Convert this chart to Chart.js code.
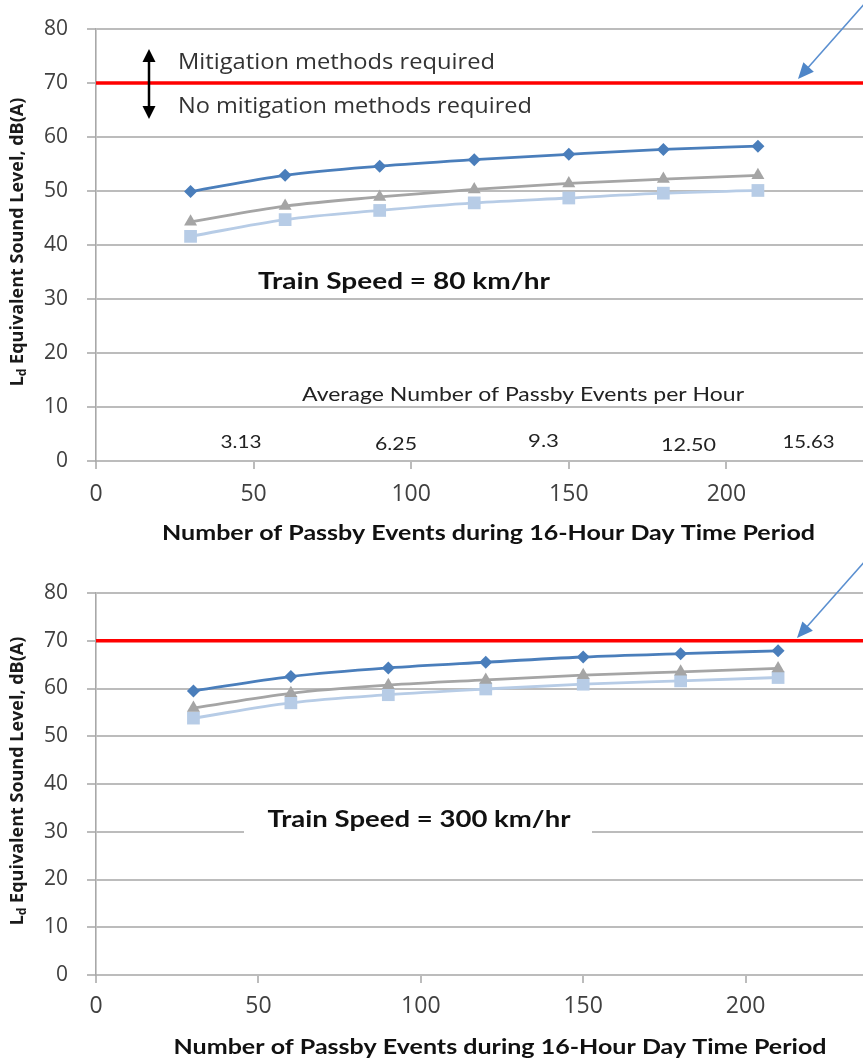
<!DOCTYPE html>
<html>
<head>
<meta charset="utf-8">
<script src="https://cdn.jsdelivr.net/npm/chart.js@4.4.1/dist/chart.umd.min.js"></script>
<style>
  html, body { margin: 0; padding: 0; background: #fff; overflow: hidden; }
  #wrap { position: relative; width: 863px; height: 1064px; overflow: hidden; background: #fff; }
  canvas { position: absolute; left: 0; }
  #chartSlow { top: 0; }
  #chartFast { top: 550px; }
</style>
</head>
<body>
<div id="wrap">
  <canvas id="chartSlow" width="900" height="550"></canvas>
  <canvas id="chartFast" width="930" height="514"></canvas>
</div>
<script>
// Passby events during the 16-hour day
const passbyEvents = [30, 60, 90, 120, 150, 180, 210];

// Ld, dB(A) — train speed 80 km/hr
const ld80SeriesA = [49.9, 52.9, 54.6, 55.8, 56.8, 57.7, 58.3];
const ld80SeriesB = [44.3, 47.2, 48.9, 50.3, 51.4, 52.2, 52.9];
const ld80SeriesC = [41.6, 44.7, 46.4, 47.8, 48.7, 49.6, 50.1];

// Ld, dB(A) — train speed 300 km/hr
const ld300SeriesA = [59.5, 62.5, 64.3, 65.5, 66.6, 67.3, 67.9];
const ld300SeriesB = [55.9, 59.0, 60.7, 61.8, 62.8, 63.5, 64.2];
const ld300SeriesC = [53.8, 57.0, 58.7, 59.9, 60.9, 61.6, 62.3];

// Mitigation criterion
const criterionLevel = 70;
const criterionSpan = [0, 250];

// Average passby events per hour
const perHourLabels = ['3.13', '6.25', '9.3', '12.50', '15.63'];

// Axis ranges
const xAxisRange = { min: 0, max: 250, step: 50 };
const yAxisRange = { min: 0, max: 80, step: 10 };

const xTitleText = 'Number of Passby Events during 16-Hour Day Time Period';

const COL_A = '#4a7ebb';
const COL_B = '#a5a5a5';
const COL_C = '#b7cce6';
const GRID = '#bcbcbc';
const TXT = '#404040';

function toPoints(xs, ys) { return xs.map((x, i) => ({ x: x, y: ys[i] })); }

function buildDatasets(a, b, c) {
  return [
    {
      label: 'criterion',
      data: criterionSpan.map(x => ({ x: x, y: criterionLevel })),
      borderColor: '#ff0000', borderWidth: 3.5, pointRadius: 0, tension: 0, order: 4
    },
    {
      label: 'C', data: toPoints(passbyEvents, c),
      borderColor: COL_C, backgroundColor: COL_C, borderWidth: 2.8,
      pointStyle: 'rect', pointRadius: 9, pointBorderWidth: 0,
      cubicInterpolationMode: 'monotone', order: 3
    },
    {
      label: 'B', data: toPoints(passbyEvents, b),
      borderColor: COL_B, backgroundColor: COL_B, borderWidth: 2.8,
      pointStyle: 'triangle', pointRadius: 7.5, pointBorderWidth: 0,
      cubicInterpolationMode: 'monotone', order: 2
    },
    {
      label: 'A', data: toPoints(passbyEvents, a),
      borderColor: COL_A, backgroundColor: COL_A, borderWidth: 2.8,
      pointStyle: 'rectRot', pointRadius: 6.5, pointBorderWidth: 0,
      cubicInterpolationMode: 'monotone', order: 1
    }
  ];
}

function drawArrowHead(ctx, x0, y0, x1, y1, len, half, color) {
  const ang = Math.atan2(y1 - y0, x1 - x0);
  ctx.save();
  ctx.fillStyle = color;
  ctx.beginPath();
  ctx.moveTo(x1, y1);
  ctx.lineTo(x1 - len * Math.cos(ang) + half * Math.sin(ang), y1 - len * Math.sin(ang) - half * Math.cos(ang));
  ctx.lineTo(x1 - len * Math.cos(ang) - half * Math.sin(ang), y1 - len * Math.sin(ang) + half * Math.cos(ang));
  ctx.closePath();
  ctx.fill();
  ctx.restore();
}

function drawCallout(ctx, x0, y0, x1, y1) {
  const ang = Math.atan2(y1 - y0, x1 - x0);
  ctx.save();
  ctx.strokeStyle = '#5a8fd0';
  ctx.lineWidth = 1.6;
  ctx.beginPath();
  ctx.moveTo(x0, y0);
  ctx.lineTo(x1 - 12 * Math.cos(ang), y1 - 12 * Math.sin(ang));
  ctx.stroke();
  ctx.restore();
  drawArrowHead(ctx, x0, y0, x1, y1, 16, 7, '#4f86c8');
}

function drawYTitle(ctx, cx, cy) {
  const main = 'bold 18px "Open Sans"';
  const sub = 'bold 12px "Open Sans"';
  const parts = [['L', main, 0], ['d', sub, 5], [' Equivalent Sound Level, dB(A)', main, 0]];
  ctx.save();
  ctx.translate(cx, cy);
  ctx.rotate(-Math.PI / 2);
  ctx.fillStyle = '#1a1a1a';
  ctx.textBaseline = 'middle';
  let total = 0;
  parts.forEach(p => { ctx.font = p[1]; total += ctx.measureText(p[0]).width; });
  let x = -total / 2;
  parts.forEach(p => {
    ctx.font = p[1];
    ctx.fillText(p[0], x, p[2]);
    x += ctx.measureText(p[0]).width;
  });
  ctx.restore();
}

// Text drawn at a set width (horizontal scaling only), anchored left or centre
function text(ctx, str, x, y, font, color, align, width) {
  ctx.save();
  ctx.font = font;
  ctx.fillStyle = color;
  ctx.textBaseline = 'middle';
  const w = ctx.measureText(str).width;
  const sx = width ? width / w : 1;
  const left = align === 'center' ? x - (w * sx) / 2 : x;
  ctx.translate(left, y);
  ctx.scale(sx, 1);
  ctx.textAlign = 'left';
  ctx.fillText(str, 0, 0);
  ctx.restore();
}

// Annotations for the 80 km/hr panel
const slowNotes = {
  id: 'slowNotes',
  afterDraw(chart) {
    const ctx = chart.ctx;
    const area = chart.chartArea;
    drawYTitle(ctx, 18, (area.top + area.bottom) / 2 - 3);
    // double-headed arrow around the criterion line
    ctx.save();
    ctx.strokeStyle = '#000'; ctx.lineWidth = 2.5;
    ctx.beginPath(); ctx.moveTo(149, 58); ctx.lineTo(149, 110); ctx.stroke();
    ctx.restore();
    drawArrowHead(ctx, 149, 80, 149, 49, 13, 6.5, '#000');
    drawArrowHead(ctx, 149, 90, 149, 119, 13, 6.5, '#000');
    text(ctx, 'Mitigation methods required', 178, 63, '22px "Open Sans"', '#333', 'left', 317);
    text(ctx, 'No mitigation methods required', 178, 107, '22px "Open Sans"', '#333', 'left', 354);
    text(ctx, 'Train Speed = 80 km/hr', 404, 282, 'bold 22px Lato', '#111', 'center', 292);
    text(ctx, 'Average Number of Passby Events per Hour', 523, 395, '19px Lato', '#222', 'center', 442);
    const px = [241, 396, 543.5, 688.5, 808.5];
    const py = [442, 444, 441, 445, 442];
    const pw = [41, 42, 31, 55, 52];
    perHourLabels.forEach((s, i) => text(ctx, s, px[i], py[i], '18px Lato', '#222', 'center', pw[i]));
    text(ctx, xTitleText, 488.5, 533, 'bold 21px Lato', '#111', 'center', 653);
    drawCallout(ctx, 866, 2, 798, 79);
  }
};

// Annotations for the 300 km/hr panel
const fastNotes = {
  id: 'fastNotes',
  afterDraw(chart) {
    const ctx = chart.ctx;
    const area = chart.chartArea;
    drawYTitle(ctx, 18, (area.top + area.bottom) / 2 - 3);
    ctx.save();
    ctx.fillStyle = '#fff';
    ctx.fillRect(244, 256, 348, 40);
    ctx.restore();
    text(ctx, 'Train Speed = 300 km/hr', 419, 270, 'bold 22px Lato', '#111', 'center', 303);
    text(ctx, xTitleText, 500, 497, 'bold 21px Lato', '#111', 'center', 653);
    drawCallout(ctx, 866, 10, 797, 88);
  }
};

function buildChart(id, a, b, c, cfg, plugin) {
  return new Chart(document.getElementById(id), {
    type: 'line',
    data: { datasets: buildDatasets(a, b, c) },
    plugins: [plugin],
    options: {
      responsive: false,
      animation: false,
      devicePixelRatio: 1,
      events: [],
      layout: { padding: { top: cfg.top, right: cfg.right, left: 0, bottom: 0 } },
      plugins: { legend: { display: false }, tooltip: { enabled: false } },
      scales: {
        x: {
          type: 'linear',
          min: xAxisRange.min, max: xAxisRange.max,
          ticks: {
            stepSize: xAxisRange.step, padding: cfg.xTickPad,
            color: TXT, font: { family: '"Open Sans"', size: 23 }, maxRotation: 0
          },
          grid: { drawOnChartArea: false, drawTicks: true, tickLength: 8, color: GRID, lineWidth: 2 },
          border: { display: true, color: GRID, width: 2 },
          afterFit(scale) { scale.height = cfg.xHeight; scale.paddingLeft = 0; scale.paddingRight = 0; }
        },
        y: {
          type: 'linear',
          min: yAxisRange.min, max: yAxisRange.max,
          ticks: { stepSize: yAxisRange.step, padding: 19, color: TXT, font: { family: '"Open Sans"', size: 21 } },
          grid: { color: GRID, lineWidth: 2, tickLength: 9 },
          border: { display: true, color: '#a8a8a8', width: 1.6 },
          afterFit(scale) { scale.width = 96; scale.paddingTop = 0; scale.paddingBottom = 0; }
        }
      }
    }
  });
}

buildChart('chartSlow', ld80SeriesA, ld80SeriesB, ld80SeriesC,
  { top: 29, right: 16, xHeight: 89, xTickPad: 12 }, slowNotes);
buildChart('chartFast', ld300SeriesA, ld300SeriesB, ld300SeriesC,
  { top: 43, right: 22, xHeight: 89, xTickPad: 10 }, fastNotes);
</script>
</body>
</html>
